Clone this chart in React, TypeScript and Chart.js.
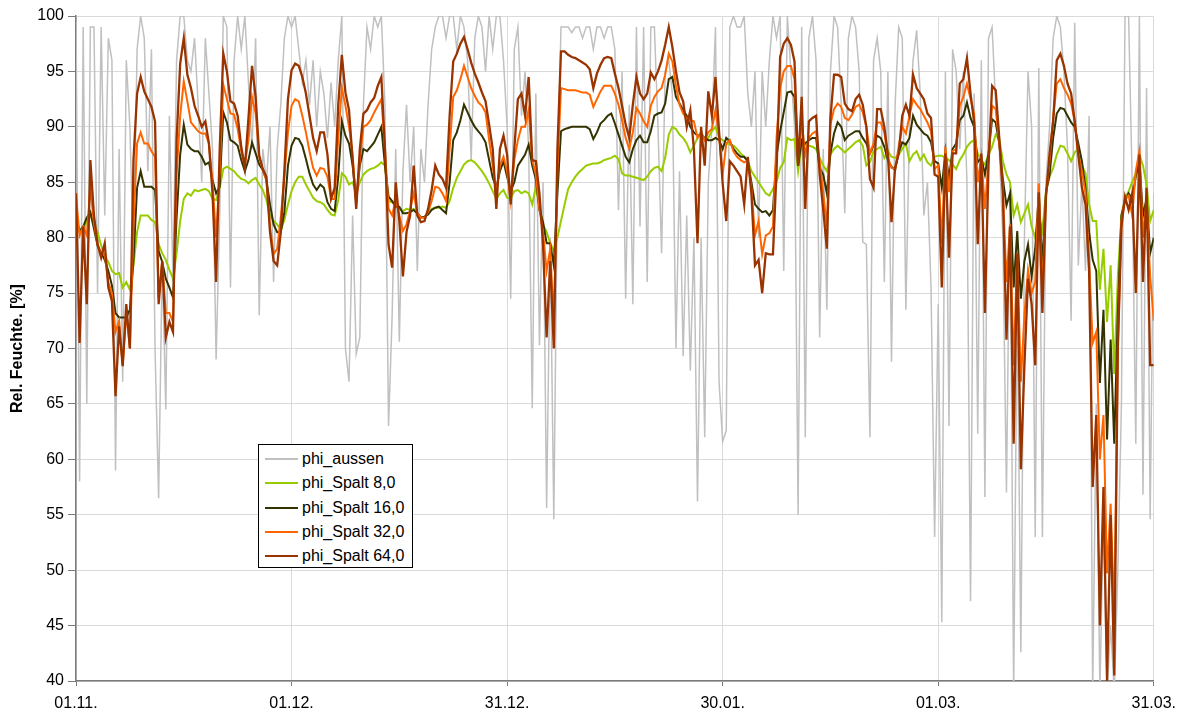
import React, { useEffect, useRef } from "react";
import { Chart, registerables } from "chart.js";

Chart.register(...registerables);

// Time axis: days after 01.11., samples every half day
const STEP_DAYS = 0.5;
const tickDays = [0, 30, 60, 90, 120, 150];
const tickLabels = ["01.11.", "01.12.", "31.12.", "30.01.", "01.03.", "31.03."];
const yMin = 40;
const yMax = 100;
const yStep = 5;
const yTitle = "Rel. Feuchte. [%]";

const seriesNames = ["phi_aussen", "phi_Spalt 8,0", "phi_Spalt 16,0", "phi_Spalt 32,0", "phi_Spalt 64,0"];
const seriesColors = ["#C0C0C0", "#99CC00", "#333300", "#FF6600", "#993300"];

const phiAussen = [
  99.5, 58, 99, 65, 99, 99, 75, 99, 82, 98,
  96, 59, 88, 67, 96, 90, 78, 97, 100, 98,
  86, 97, 70, 56.5, 78, 64.5, 91, 76, 96, 100,
  100, 96, 95, 98, 92, 85, 98, 93, 88, 69,
  82, 100, 99, 75.5, 96, 100, 97, 100, 94, 88,
  98, 73, 88, 85, 90, 76, 88, 92, 98, 100,
  99, 100, 97, 94, 96, 92, 96, 90, 95, 93,
  89, 94, 90, 96, 100, 70, 67, 82, 69.5, 71,
  92, 99, 97, 100, 99, 100, 92, 63, 73, 88,
  70.6, 86, 92, 85, 90, 77, 88, 85, 92, 97,
  99, 100, 100, 98, 100, 100, 97, 100, 99, 96,
  87, 98, 100, 99, 95, 100, 97, 100, 100, 96,
  90, 74.5, 97, 99, 91, 95, 88, 64.6, 93, 70.3,
  85, 55.6, 80, 54.6, 85, 99, 99, 99, 98.5, 99,
  99, 98, 99, 99, 97, 99, 99, 98, 99, 99,
  97, 82.5, 95, 74.5, 92, 74, 99, 81, 99, 76,
  99, 99, 90, 78.6, 95, 96, 93, 70, 86, 69.3,
  82, 68, 80, 56.2, 80, 62, 85, 90, 99, 67,
  61.6, 62.6, 99, 100, 99, 99, 100, 93, 90, 95,
  80, 95, 90, 96, 100, 98, 100, 77, 100, 95,
  90, 55, 99, 62, 98, 100, 96, 71, 88, 73.5,
  95, 100, 99, 92, 82.2, 98, 100, 99, 95, 79.6,
  79.4, 62, 96, 98, 95, 76, 95, 68.8, 92, 99,
  98, 73.5, 90, 96, 98.7, 93, 82, 85, 75.5, 53,
  74, 45.3, 95, 63, 97, 95, 88, 95, 85, 47.2,
  93, 62.3, 96, 56.6, 98, 99, 92, 88, 80, 57,
  85, 39, 75, 42.6, 80, 95, 90, 53, 95.3, 53,
  85, 90, 98, 100, 99, 95, 88, 72.5, 99.4, 77.5,
  85, 77, 91, 39, 65, 39, 55, 39, 45, 39,
  50, 65, 100, 100, 85, 61.4, 100, 56.8, 93.5, 54.6, 84,
];

const phiSpalt8 = [
  81.4, 80.8, 80.5, 81.5, 82, 81.3, 80.5, 79.3, 78.3, 77.8,
  77, 76.7, 76.8, 75.5, 76, 75.3, 77.5, 80.5, 82, 82,
  82, 81.6, 81.4, 79.4, 78.6, 78, 77.1, 76.3, 78.6, 81.5,
  83.5, 84, 83.8, 84.3, 84.2, 84.3, 84.4, 84.2, 83.5, 83.4,
  84.5, 86.2, 86.4, 86.2, 86, 85.6, 85.3, 85.2, 84.9, 85.2,
  85.4, 84.8, 84.3, 83.4, 82, 81.5, 81.2, 80.7, 81.6, 83,
  84.2, 85, 85.5, 85.5, 84.8, 84.2, 83.6, 83.3, 83.2, 83,
  82.5, 82.1, 82, 83.4, 85.8, 85.5, 84.8, 85, 84, 85,
  85.7, 86, 86.2, 86.3, 86.5, 86.8, 86.5, 83.3, 83.2, 83,
  82.6, 82.4, 82.6, 82.5, 82.6, 82.1, 81.9, 81.8, 82.2, 82.6,
  82.7, 82.7, 82.8, 82.7, 83.3, 84.5, 85.4, 86, 86.6, 86.9,
  87, 86.8, 86.4, 86, 85.5, 84.9, 84.2, 83.5, 84, 84.3,
  83.6, 83.5, 84.2, 84.3, 84, 84.2, 84, 83, 84.6, 82.8,
  81.2, 80.5, 79.5, 78.8, 80, 81.5, 83, 84.4, 85, 85.5,
  85.9, 86.2, 86.5, 86.6, 86.7, 86.7, 86.8, 87, 87.1, 87.2,
  87.4, 87.1, 85.8, 85.6, 85.6, 85.5, 85.4, 85.3, 85.2, 85.5,
  86, 86.3, 86.4, 86, 87.2, 89.3, 90, 89.8, 89.3, 89,
  88.5, 87.7, 88.3, 89, 89.5, 88.9, 89, 89.6, 90, 89,
  88.8, 88.5, 88.4, 88.3, 88, 87.6, 87.3, 86.9, 86, 85.5,
  85, 84.5, 84, 83.8, 84.4, 85, 86.3, 86.8, 89, 88.8,
  88.9, 86, 88.5, 88.4, 88.3, 88.2, 88, 87.2, 86.5, 86,
  87.5, 88, 88.3, 88, 87.7, 88, 88.3, 88.6, 88.8, 88.3,
  86.5, 86.8, 87.8, 88, 88.2, 87.2, 87.8, 87.3, 87.2, 87.5,
  88, 88.5, 86.9, 87.5, 87.8, 87, 87.5, 86.8, 86.5, 87.3,
  87.4, 87.4, 87.2, 87, 86.6, 86.2, 87, 87.5, 88.2, 88.6,
  88.8, 87.6, 87, 86.6, 87.5, 88.2, 89.3, 88.9, 86.9, 85.7,
  85, 82, 83, 81.4, 82.2, 83, 81, 80, 82, 80.6,
  84.2, 85.5, 86.3, 87.5, 88.3, 88.2, 87.6, 86.9, 87.7, 88,
  86.5, 85.8, 83, 81.5, 81.5, 75.3, 79, 72.4, 77.5, 67.7,
  76.5, 82, 83.5, 84.2, 85, 85.8, 87.5, 86.5, 84.8, 81.5, 82.5,
];

const phiSpalt16 = [
  81.8, 80.6, 81, 81.8, 82.3, 80.8, 79.3, 78.6, 78, 77,
  75.7, 73.2, 72.8, 72.8, 72.8, 73.5, 78, 84.5, 86, 84.6,
  84.6, 84.6, 84.3, 78.8, 77.8, 76.3, 75.5, 74.6, 81.8, 87.5,
  90.2, 88.4, 88, 87.8, 87.8, 87.3, 86.6, 86.8, 85.2, 84,
  84.6, 91.3, 90.4, 88.8, 88.6, 88.3, 87, 86, 87, 88.6,
  87.6, 86.6, 86.1, 85.2, 83, 81.2, 80.5, 80.5, 82.3, 86.5,
  88.3, 89, 88.9, 88.3, 87.1, 85.8, 84.8, 84.3, 84.8, 84.5,
  83.2, 82.6, 82.4, 85.5, 90.5, 89.2, 88.5, 86.5, 83.5, 86.5,
  88, 87.8, 88.2, 88.6, 89.3, 90, 86.5, 83.7, 83.3, 82.8,
  82.8, 82.2, 82.2, 82.3, 82.5, 82.2, 81.8, 81.9, 82.1, 82.5,
  82.7, 82.8, 82.5, 82.2, 85, 88.8, 89.5, 90.6, 92, 91.3,
  90.6, 90, 89.6, 89.2, 88.6, 87, 85.4, 84.5, 86, 86.9,
  85.5, 84.2, 85, 86.5, 87, 87.5, 88.4, 86.5, 85.3, 82.5,
  81.4, 79.5, 79.5, 77.5, 84, 89.6, 89.8, 89.9, 90, 90,
  90, 90, 90, 89.8, 88.9, 89.5, 90.3, 90.6, 91, 91.2,
  90.3, 89.3, 88.3, 87.3, 86.8, 88, 88.8, 89.2, 88.6, 88.6,
  89.6, 91, 91.2, 91.3, 92.1, 94.3, 94.5, 92.7, 92.1, 91.5,
  91, 90, 89.5, 89.2, 89.3, 89, 88.8, 88.8, 89, 88.8,
  88, 89, 88.7, 88, 87.6, 87.3, 87.3, 86.9, 85, 83,
  82.6, 82.3, 82.4, 82, 82.5, 87.4, 89.6, 91.3, 93.1, 93.2,
  92.7, 86.5, 88.8, 88.5, 88.8, 89, 89, 86.3, 85.7, 84,
  87.6, 89.4, 90.4, 90, 88.8, 89.2, 89.4, 89.6, 89.6, 89,
  88.5, 87.6, 88.3, 89.2, 89, 88.2, 87, 86.4, 86.1, 87.7,
  88.6, 88.4, 89, 91, 90.2, 89.8, 89.4, 89.2, 88.6, 86.9,
  86.7, 84.5, 87.8, 85.3, 88, 88.5, 90.6, 91, 92.2, 90.8,
  90, 86.8, 87.2, 85.7, 87.6, 90.7, 90.4, 88.5, 85.3, 82.9,
  84, 75.5, 80.6, 74.5, 77.9, 79.4, 76.5, 79, 84, 77.5,
  84.1, 85.7, 89, 91.2, 91.7, 91.6, 91, 90.4, 90, 88.5,
  86.9, 84.5, 80.5, 78, 77, 66.9, 73.5, 61.8, 70.8, 61.4,
  73.2, 82, 83.3, 84, 83.5, 85.5, 87, 82, 83.5, 78.6, 80,
];

const phiSpalt32 = [
  83.7, 80.2, 81, 80.2, 84.5, 81.3, 79.4, 78.6, 78.5, 76,
  75, 71.5, 72.5, 68.5, 73.2, 70, 81, 88.5, 89.5, 88.5,
  88.5, 87.8, 87.3, 74.5, 77.9, 73.2, 73.2, 72.4, 85.7, 91,
  94.1, 92.3, 90.4, 90, 89.6, 89.4, 89.4, 88.5, 85, 80,
  86, 93.8, 92.5, 91.2, 91.1, 89.8, 87.8, 86.5, 88.8, 92.7,
  91.2, 87.3, 86.1, 85.2, 81, 78.5, 79, 81.8, 85.5, 89.5,
  91.9, 92.5, 92.3, 91, 89.5, 87.8, 86.3, 85.6, 86.3, 86.2,
  85.5, 83.5, 83.5, 89, 93.5, 91.9, 90, 87.5, 83, 87,
  90, 90.2, 90.6, 91.3, 91.9, 92.5, 88, 82.6, 82, 83.5,
  82, 80.6, 81.2, 82.5, 84, 82.2, 81.8, 81.8, 82.3, 83.3,
  84.6, 84.5, 84, 83.3, 88, 92.7, 93.3, 94.3, 95.5, 94.5,
  93.5, 92.8, 92.2, 91.9, 91.3, 88.8, 86.5, 84, 86.5, 87.3,
  86, 83.3, 87, 88.8, 90, 90, 91.5, 87, 85.7, 82.6,
  80.5, 77, 79, 72.4, 86, 93.5, 93.4, 93.3, 93.3, 93.3,
  93.2, 93.1, 93.1, 92.9, 91.8, 92.5, 93.2, 93.7, 93.7, 93.7,
  93, 92, 90.6, 89, 88, 89.5, 91.7, 91.2, 90.5, 90,
  91.9, 92.7, 93.2, 93.5, 94.7, 96.6, 95.9, 93.7, 92, 91.2,
  90.8, 90.6, 90.5, 89, 89.5, 88.8, 89.5, 89.8, 91.5, 89.2,
  85.7, 88.5, 88.8, 87.8, 87.3, 87, 86.8, 87, 84.5, 80.2,
  81.5, 78.5, 80.2, 80.4, 81, 89, 93.5, 95, 95.5, 95.5,
  94.3, 87, 90.5, 87.5, 89, 89.4, 89.6, 86.9, 84, 81,
  90.2, 91.6, 92.1, 91.8, 90.8, 90.6, 91.1, 91.8, 92, 91.3,
  90, 87.6, 88.5, 90.4, 90.4, 89.5, 87.2, 86.3, 86.2, 88.2,
  90, 89.4, 91, 92.5, 92, 91.6, 91, 90.4, 89.6, 86.2,
  86.5, 79.5, 88.2, 84.1, 87.8, 88, 91.9, 92.7, 93.9, 92.5,
  91.2, 85, 87.3, 82.6, 87, 91.9, 91.6, 88.5, 84.5, 76,
  81.2, 68.5, 78.6, 67, 73, 77.1, 75, 76, 84.9, 75,
  83.8, 86.9, 90.8, 93.9, 94.3, 93.5, 92.9, 92.1, 90.5, 87.5,
  86, 84, 78, 70.5, 71.5, 60, 64, 49.7, 56, 45.8,
  70, 81.5, 83.5, 83.8, 82, 86, 87.8, 80, 83.5, 76.5, 72.5,
];

const phiSpalt64 = [
  84, 70.5, 81, 74, 87, 82, 79.4, 78.2, 79.5, 75.5,
  74.3, 65.7, 72, 68.4, 74, 70, 87, 93, 94.5, 93.2,
  92.5, 91.8, 90.5, 74, 77.9, 71, 72.4, 71.5, 88.8, 95.7,
  98, 94.7, 93.5, 91.9, 91, 90, 90.5, 88.5, 84, 76,
  88, 96.6, 95, 92.3, 92.1, 91, 88.2, 86.3, 90.8, 95.5,
  92.7, 87.4, 86.2, 85.5, 80.5, 77.9, 77.5, 80.5, 86, 92.5,
  95.1, 95.7, 95.5, 94.5, 93, 91, 89, 87.8, 89.5, 89.5,
  87.5, 83.5, 84.5, 92, 96.5, 93.1, 91.5, 87, 82.6, 88,
  91.2, 91.5, 92.2, 92.6, 93.7, 94.5, 88, 79.4, 77.3, 85,
  81.5, 76.5, 80.5, 82, 86.5, 82, 81.4, 81.5, 82.6, 84.3,
  86.5, 85.7, 85.3, 84.5, 91, 95.9, 96.6, 97.5, 98.1, 97,
  95.8, 94.8, 94, 93.1, 92.3, 90.2, 88, 82.6, 88, 89.2,
  87.5, 83, 88, 92.5, 93, 91, 94.5, 87, 86.9, 84,
  79.4, 71, 77.9, 70, 88, 96.8, 96.8, 96.5, 96.3, 96.2,
  96, 95.8, 95.6, 95.2, 93.5, 94.8, 95.6, 96.2, 96.3, 96.2,
  94.8, 93.5, 91.9, 90.2, 89, 92, 94.5, 93, 92.5, 93,
  94.9, 94.3, 95, 96, 97.4, 99, 97.2, 95, 93.1, 92.3,
  90, 91.5, 88, 79.5, 90, 86.5, 93.2, 91, 94.5, 89.6,
  84.9, 81.5, 86.9, 86.5, 86, 85.5, 83, 87.3, 84, 77.5,
  78, 75, 78.6, 78.5, 78.5, 86, 96.3, 97.5, 98, 97.4,
  95.9, 86.5, 92.7, 82.6, 90.5, 90.8, 91, 85.7, 82.5, 79,
  90.8, 94.7, 94.7, 94.5, 92.1, 91.6, 91.4, 92.5, 92.9, 92,
  90, 85.3, 84.5, 91.6, 91.6, 90, 87.5, 81.4, 86.3, 87.6,
  91, 92, 91, 94.7, 93.5, 93, 92.5, 91.2, 90.8, 85.7,
  85.5, 75.5, 87.6, 78.2, 87.6, 87.6, 93.9, 94.3, 96.2, 93,
  90.4, 79.4, 87.6, 73.2, 86.5, 93.7, 93.3, 89, 84, 70.8,
  81, 61.4, 78.6, 59.1, 68.5, 76.3, 74, 68.5, 84.1, 73.2,
  83.7, 87.6, 90.5, 96, 96.6, 95.5, 93.9, 93, 90.5, 87.5,
  84.5, 83, 77, 57.5, 64, 45, 57.5, 40, 55, 40.5,
  70, 81, 83.7, 82.5, 84, 75, 87.5, 76, 84.5, 68.5, 68.5,
];

const seriesValues = [phiAussen, phiSpalt8, phiSpalt16, phiSpalt32, phiSpalt64];
const seriesWidths = [1.5, 2, 2, 2, 2.3];

const FONT = "'Liberation Sans', Arial, Helvetica, sans-serif";
const AXIS_COLOR = "#7A7A7A";
const GRID_COLOR = "#DADADA";

function Legend() {
  return (
    <div
      style={{
        position: "absolute",
        left: 258,
        top: 444,
        width: 155,
        height: 124,
        boxSizing: "border-box",
        border: "1px solid #000",
        background: "#fff",
        fontFamily: FONT,
        fontSize: 16,
        color: "#000",
      }}
    >
      {seriesNames.map((name, k) => (
        <div
          key={name}
          style={{
            position: "absolute",
            left: 0,
            top: 4 + k * 24.3,
            height: 20,
            display: "flex",
            alignItems: "center",
            whiteSpace: "nowrap",
          }}
        >
          <div style={{ marginLeft: 6, width: 33, height: 2, background: seriesColors[k] }} />
          <span style={{ marginLeft: 4, lineHeight: "20px" }}>{name}</span>
        </div>
      ))}
    </div>
  );
}

export default function App() {
  const canvasRef = useRef<HTMLCanvasElement | null>(null);

  useEffect(() => {
    const canvas = canvasRef.current;
    if (!canvas) return;
    const datasets = seriesNames.map((name, k) => ({
      label: name,
      data: seriesValues[k].map((v, i) => ({ x: i * STEP_DAYS, y: v })),
      borderColor: seriesColors[k],
      backgroundColor: seriesColors[k],
      borderWidth: seriesWidths[k],
      pointRadius: 0,
      tension: 0,
      fill: false,
      order: seriesNames.length - k,
    }));

    const chart = new Chart(canvas, {
      type: "line",
      data: { datasets },
      options: {
        animation: false,
        responsive: false,
        devicePixelRatio: 1,
        parsing: false as any,
        normalized: true,
        layout: { padding: { top: 16, right: 29, left: 0, bottom: 0 } },
        plugins: {
          legend: { display: false },
          tooltip: { enabled: false },
        },
        scales: {
          x: {
            type: "linear",
            min: tickDays[0],
            max: tickDays[tickDays.length - 1],
            afterBuildTicks: (scale: any) => {
              scale.ticks = tickDays.map((v) => ({ value: v }));
            },
            afterFit: (scale: any) => {
              scale.height = 34;
            },
            ticks: {
              autoSkip: false,
              maxRotation: 0,
              padding: 8,
              color: "#000",
              font: { family: FONT, size: 16 },
              callback: (value: any) => {
                const idx = tickDays.indexOf(Number(value));
                return idx >= 0 ? tickLabels[idx] : "";
              },
            },
            grid: {
              color: GRID_COLOR,
              tickColor: AXIS_COLOR,
              tickLength: 5,
              lineWidth: 1,
            },
            border: { color: AXIS_COLOR, width: 1.5 },
          },
          y: {
            type: "linear",
            min: yMin,
            max: yMax,
            afterFit: (scale: any) => {
              scale.width = 76;
            },
            ticks: {
              stepSize: yStep,
              padding: 4,
              color: "#000",
              font: { family: FONT, size: 16 },
            },
            grid: {
              color: GRID_COLOR,
              tickColor: AXIS_COLOR,
              tickLength: 8,
              lineWidth: 1,
            },
            border: { color: AXIS_COLOR, width: 1.5 },
            title: {
              display: true,
              text: yTitle,
              color: "#000",
              font: { family: FONT, size: 16, weight: "bold" },
              padding: { top: 8, bottom: 0 },
            },
          },
        },
      },
    });
    return () => chart.destroy();
  }, []);

  return (
    <div style={{ position: "absolute", left: 0, top: 0, width: 1184, height: 715, background: "#fff" }}>
      <canvas ref={canvasRef} width={1184} height={715} style={{ display: "block" }} />
      <Legend />
    </div>
  );
}
